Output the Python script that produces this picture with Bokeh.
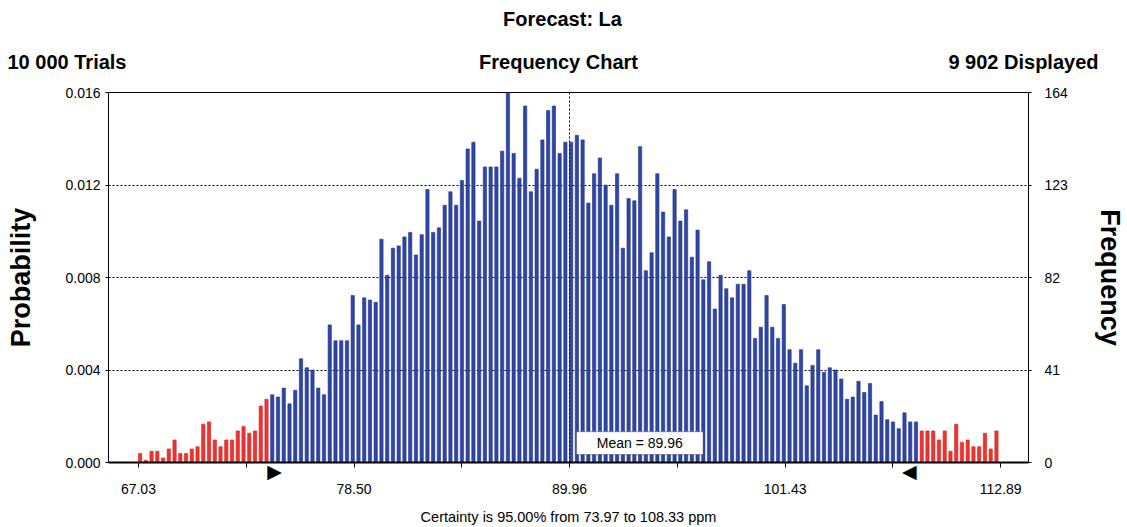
import numpy as np
from bokeh.plotting import figure
from bokeh.layouts import column
from bokeh.models import (Range1d, LinearAxis, FixedTicker, Span, Grid, Label,
                          BoxAnnotation, NumeralTickFormatter, ColumnDataSource)
from bokeh.core.properties import value
from bokeh.embed import file_html
from bokeh.resources import INLINE

# ---- data ----
counts = [4, 1, 5, 5, 2, 6, 10, 4, 4, 6, 7, 17, 18, 10, 7, 10, 10, 14, 16, 13,
          14, 25, 28, 30, 29, 33, 26, 32, 46, 42, 41, 33, 30, 61, 54, 54, 54, 74, 61, 73,
          72, 71, 99, 83, 95, 96, 100, 102, 92, 101, 121, 102, 104, 114, 120, 114, 125, 139, 142, 107,
          131, 131, 131, 138, 164, 137, 126, 158, 120, 130, 143, 156, 158, 137, 142, 142, 145, 143, 115, 128,
          135, 123, 114, 128, 95, 117, 116, 140, 85, 93, 128, 111, 100, 121, 107, 112, 91, 103, 81, 89,
          68, 83, 77, 73, 79, 79, 85, 55, 60, 74, 60, 55, 70, 50, 44, 50, 34, 43, 50, 40,
          42, 41, 37, 28, 29, 36, 31, 35, 21, 27, 19, 18, 15, 22, 18, 18, 14, 14, 14, 10,
          14, 5, 17, 9, 10, 7, 7, 13, 6, 14]
range_lo, range_hi = 67.03, 112.89
cert_lo, cert_hi = 73.97, 108.33
mean_val = 89.96
x_tick_values = [67.03, 72.765, 78.50, 84.23, 89.96, 95.695, 101.43, 107.16, 112.89]
x_tick_labels = ["67.03", "", "78.50", "", "89.96", "", "101.43", "", "112.89"]
prob_ticks = [0.0, 0.004, 0.008, 0.012, 0.016]
freq_ticks = [0, 41, 82, 123, 164]
grid_ticks = [41, 82, 123]
title_text = "Forecast: La"
left_header = "10 000 Trials"
center_header = "Frequency Chart"
right_header = "9 902 Displayed"

FONT = "Liberation Sans"
BLUE, BLUE_LINE = "#2f46a2", "#213388"
RED, RED_LINE = "#ec3430", "#d02222"

# ---------------- header ----------------
hdr = figure(width=1127, height=82, x_range=Range1d(0, 1127), y_range=Range1d(0, 82),
             output_backend="svg", toolbar_location=None,
             x_axis_location=None, y_axis_location=None,
             min_border_left=0, min_border_right=0, min_border_top=0, min_border_bottom=0)
hdr.outline_line_color = None
hdr.center = [c for c in hdr.center if not isinstance(c, Grid)]
hdr_common = dict(text_font=value(FONT), text_font_style="bold", text_font_size="20px",
                  text_color="black", text_baseline="middle")
hdr.text(x=[562], y=[64], text=[title_text], text_align="center", **hdr_common)
hdr.text(x=[7], y=[21], text=[left_header], text_align="left", **hdr_common)
hdr.text(x=[558], y=[21], text=[center_header], text_align="center", **hdr_common)
hdr.text(x=[1098], y=[21], text=[right_header], text_align="right", **hdr_common)

# ---------------- main chart ----------------
n_bins = len(counts)
w = (range_hi - range_lo) / n_bins
left_edges = range_lo + np.arange(n_bins) * w
bar_w = 0.57 * w
is_tail = (left_edges < cert_lo) | (left_edges >= cert_hi)
src = ColumnDataSource(dict(
    x=left_edges + bar_w / 2,
    top=counts,
    fill=[RED if t else BLUE for t in is_tail],
    line=[RED_LINE if t else BLUE_LINE for t in is_tail],
))

p = figure(width=1127, height=445,
           x_range=Range1d(65.438, 114.376), y_range=Range1d(0, 164),
           output_backend="svg", toolbar_location=None,
           x_axis_location=None, y_axis_location=None,
           min_border_left=108, min_border_right=97, min_border_top=10, min_border_bottom=64)
p.background_fill_color = "white"
p.border_fill_color = "white"
p.outline_line_color = "black"
p.outline_line_width = 1
p.center = [c for c in p.center if not isinstance(c, Grid)]

for fig in (hdr, p):
    if "frame_align" in fig.properties():
        fig.frame_align = False

p.vbar(x="x", top="top", width=bar_w, bottom=0, source=src,
       fill_color="fill", line_color="line", line_width=0.6)

p.add_layout(Grid(dimension=1, ticker=FixedTicker(ticks=grid_ticks),
                  grid_line_color="black", grid_line_dash="2 2", grid_line_width=1))

# y axes
p.extra_y_ranges = {"prob": Range1d(0, 0.016)}
left_axis = LinearAxis(y_range_name="prob", ticker=FixedTicker(ticks=prob_ticks),
                       formatter=NumeralTickFormatter(format="0.000"),
                       axis_label="Probability")
right_axis = LinearAxis(ticker=FixedTicker(ticks=freq_ticks), axis_label="Frequency")

# x axes: ticks / certainty markers / tick labels
ax_ticks = LinearAxis(ticker=FixedTicker(ticks=x_tick_values),
                      major_label_overrides={v: "" for v in x_tick_values})
mk_dx = 0.30
mk_ticks = [cert_lo + mk_dx, cert_hi - mk_dx]
ax_marks = LinearAxis(ticker=FixedTicker(ticks=mk_ticks),
                      major_label_overrides={mk_ticks[0]: "\u25B6", mk_ticks[1]: "\u25C0"})
ax_labels = LinearAxis(ticker=FixedTicker(ticks=x_tick_values),
                       major_label_overrides={v: l for v, l in zip(x_tick_values, x_tick_labels)},
                       axis_label="Certainty is 95.00%% from %.2f to %.2f ppm" % (cert_lo, cert_hi))

for ax in [left_axis, right_axis, ax_ticks, ax_marks, ax_labels]:
    ax.major_label_text_font = FONT
    ax.major_label_text_font_size = "14px"
    ax.major_label_text_color = "black"
    ax.axis_line_color = "black"
    ax.major_tick_line_color = "black"
    ax.minor_tick_line_color = None
    ax.major_tick_in = 0
    ax.axis_label_text_font = FONT
    ax.axis_label_text_color = "black"

left_axis.major_tick_out = 3
left_axis.major_label_standoff = 5
left_axis.axis_label_standoff = 26
left_axis.axis_label_text_font_size = "27px"
left_axis.axis_label_text_font_style = "bold"

right_axis.major_tick_out = 3
right_axis.major_label_standoff = 13
right_axis.axis_label_standoff = 24
right_axis.axis_label_text_font_size = "27px"
right_axis.axis_label_text_font_style = "bold"

ax_ticks.axis_line_width = 2
ax_ticks.major_tick_out = 5
ax_ticks.major_label_standoff = 0
ax_ticks.major_label_text_font_size = "1px"

ax_marks.axis_line_color = None
ax_marks.major_tick_line_color = None
ax_marks.major_tick_out = 0
ax_marks.major_label_standoff = -8
ax_marks.major_label_text_font = "DejaVu Sans"
ax_marks.major_label_text_font_size = "19px"

ax_labels.axis_line_color = None
ax_labels.major_tick_line_color = None
ax_labels.major_tick_out = 0
ax_labels.major_label_standoff = -1
ax_labels.axis_label_standoff = 12
ax_labels.axis_label_text_font_size = "14.5px"
ax_labels.axis_label_text_font_style = "normal"

p.add_layout(left_axis, "left")
p.add_layout(right_axis, "right")
p.add_layout(ax_ticks, "below")
p.add_layout(ax_marks, "below")
p.add_layout(ax_labels, "below")

# mean line
p.add_layout(Span(location=mean_val, dimension="height", line_color="black",
                  line_dash="2 2", line_width=1))

# mean box
p.add_layout(BoxAnnotation(left=90.33, right=97.07, bottom=3.5, top=13.7,
                           fill_color="white", fill_alpha=1, line_color="black",
                           line_width=1.2))
p.add_layout(Label(x=93.7, y=8.6, text="Mean = %.2f" % mean_val, text_align="center",
                   text_baseline="middle", text_font=FONT, text_font_size="14px",
                   text_color="black"))

layout = column(hdr, p, spacing=0)
open("out.html", "w").write(file_html(layout, INLINE))
